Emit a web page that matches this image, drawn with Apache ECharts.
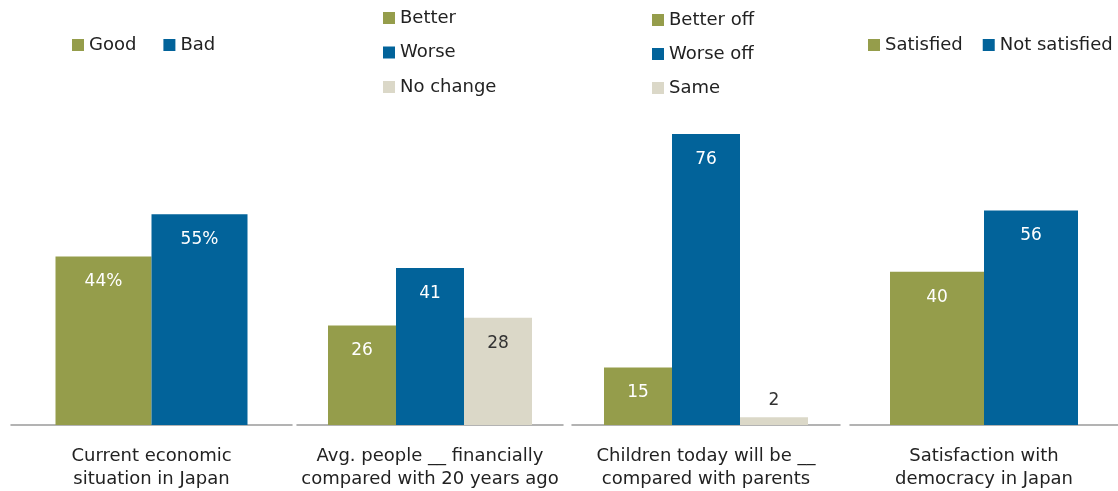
<!DOCTYPE html>
<html>
<head>
<meta charset="utf-8">
<script src="https://cdn.jsdelivr.net/npm/echarts@6/dist/echarts.min.js"></script>
<style>
  html, body { margin: 0; padding: 0; background: #fff; }
  #chart { width: 1118px; height: 491px; }
</style>
</head>
<body>
<div id="chart"></div>
<script>
// Panel titles (shown under each baseline)
const panelTitles = [
  'Current economic\nsituation in Japan',
  'Avg. people __ financially\ncompared with 20 years ago',
  'Children today will be __\ncompared with parents',
  'Satisfaction with\ndemocracy in Japan'
];

// Series names and values for each panel
const economyNames = ['Good', 'Bad'];
const economyValues = [44, 55];

const financesNames = ['Better', 'Worse', 'No change'];
const financesValues = [26, 41, 28];

const childrenNames = ['Better off', 'Worse off', 'Same'];
const childrenValues = [15, 76, 2];

const democracyNames = ['Satisfied', 'Not satisfied'];
const democracyValues = [40, 56];

const colors = ['#959d4b', '#02639a', '#dbd8c8'];
const FONT = 'DejaVu Sans';

const panels = [
  { names: economyNames, values: economyValues, suffix: '%', grid: { left: 11, width: 281 }, barWidth: 96,
    legend: { left: 72, top: 35, orient: 'horizontal', itemGap: 27 } },
  { names: financesNames, values: financesValues, suffix: '', grid: { left: 297, width: 266 }, barWidth: 68,
    legend: { left: 383, top: 8, orient: 'vertical', itemGap: 14.5 } },
  { names: childrenNames, values: childrenValues, suffix: '', grid: { left: 572, width: 268 }, barWidth: 68,
    legend: { left: 652, top: 10, orient: 'vertical', itemGap: 14 } },
  { names: democracyNames, values: democracyValues, suffix: '', grid: { left: 850, width: 268 }, barWidth: 94,
    legend: { left: 868, top: 35, orient: 'horizontal', itemGap: 20 } }
];

const grids = [], xAxes = [], yAxes = [], legends = [], series = [];

panels.forEach((p, i) => {
  grids.push({ left: p.grid.left, width: p.grid.width, top: 42, bottom: 66 });
  xAxes.push({
    type: 'category', gridIndex: i, data: [panelTitles[i]],
    axisTick: { show: false },
    axisLine: { lineStyle: { color: '#9a9a9a', width: 1.5 } },
    axisLabel: { color: '#222', fontFamily: FONT, fontSize: 18, lineHeight: 23, margin: 20 }
  });
  yAxes.push({ type: 'value', gridIndex: i, min: 0, max: 100, show: false });
  legends.push(Object.assign({
    data: p.names, icon: 'rect', itemWidth: 12, itemHeight: 12,
    padding: 0, width: 300,
    textStyle: { color: '#222', fontFamily: FONT, fontSize: 18, lineHeight: 20, padding: [0, 0, 0, 0] },
    selectedMode: false
  }, p.legend));
  p.names.forEach((name, k) => {
    const v = p.values[k];
    const small = v < 8;
    series.push({
      type: 'bar', name: name, xAxisIndex: i, yAxisIndex: i,
      barWidth: p.barWidth, barGap: '0%',
      itemStyle: { color: colors[k] },
      silent: true,
      label: {
        show: true,
        position: small ? 'top' : 'insideTop',
        distance: small ? 8 : 17,
        color: (small || k === 2) ? '#333' : '#fff',
        fontFamily: FONT, fontSize: 17,
        formatter: () => v + p.suffix
      },
      data: [v]
    });
  });
});

const chart = echarts.init(document.getElementById('chart'), null, { renderer: 'canvas' });
chart.setOption({
  animation: false,
  grid: grids, xAxis: xAxes, yAxis: yAxes, legend: legends, series: series
});
</script>
</body>
</html>
